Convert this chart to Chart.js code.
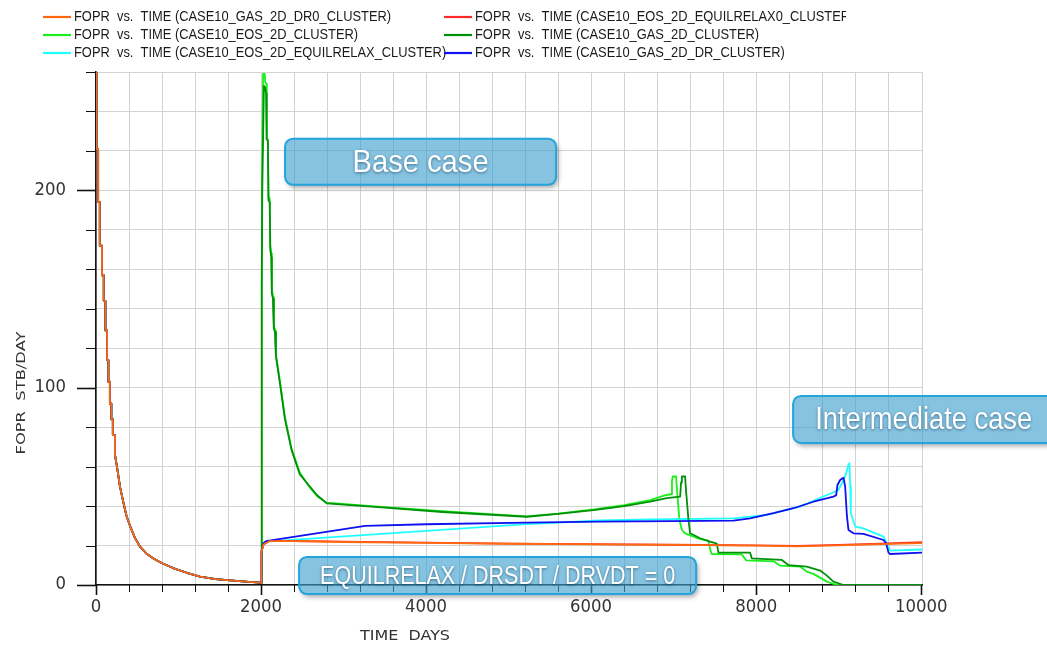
<!DOCTYPE html>
<html>
<head>
<meta charset="utf-8">
<title>FOPR vs. TIME</title>
<script src="https://cdn.jsdelivr.net/npm/chart.js@4.4.1/dist/chart.umd.min.js"></script>
<style>
  html, body { margin: 0; padding: 0; background: #fff; }
  #wrap { width: 1047px; height: 646px; position: relative; }
</style>
</head>
<body>
<div id="wrap"><canvas id="fopr"></canvas></div>
<script>
// early depletion, shared by every case up to 2000 days
const decayDays = [0, 6, 6, 26, 26, 46, 46, 72, 72, 94, 94, 114, 114, 134, 134, 150, 150, 168, 168, 186, 186, 204, 204, 230, 230, 258,
  290, 331, 370, 412, 470, 533, 610, 691, 800, 935, 1100, 1261, 1450, 1663, 1850, 1995];
const decayRate = [262, 262, 221, 221, 194, 194, 172, 172, 157, 157, 144, 144, 129, 129, 114, 114, 103, 103, 92, 92, 84, 84, 76, 76, 66, 59,
  50, 42, 35, 30, 24, 19.5, 16, 13.6, 11, 8.6, 6.2, 4.3, 3, 2.2, 1.6, 1.2];

// after restart at 2000 days
const dr0Days = [2000, 2006, 2030, 2100, 2400, 3000, 4000, 5000, 6000, 7000, 8000, 8500, 9000, 9500, 10010];
const dr0Rate = [1.2, 17, 20.5, 22.2, 22.2, 21.8, 21.4, 20.9, 20.6, 20.3, 20.0, 19.6, 20.1, 20.7, 21.2];

const relax0Days = [2000, 2006, 2030, 2100, 2400, 3000, 4000, 5000, 6000, 7000, 8000, 8500, 9000, 9500, 10010];
const relax0Rate = [1.2, 17, 20.6, 22.3, 22.3, 22.0, 21.5, 21.0, 20.7, 20.4, 20.1, 19.8, 20.3, 20.9, 21.7];

const eosDays = [2000, 2010, 2025, 2045, 2050, 2065, 2070, 2083, 2090, 2105, 2112, 2125, 2132, 2145, 2155, 2170, 2180, 2230, 2290, 2370,
  2470, 2580, 2680, 2790, 3500, 4200, 5220, 5600, 6030, 6400, 6715, 6900, 6970, 6980, 6990, 7030, 7045, 7070, 7100, 7139,
  7321, 7420, 7445, 7462, 7826, 7880, 8210, 8291, 8533, 8614, 8700, 8857, 8978, 10010];
const eosRate = [1.2, 200, 259, 259, 255, 254, 226, 226, 197, 196, 172, 168, 150, 146, 132, 129, 117, 103, 85, 69,
  57, 50, 45, 41.8, 39.5, 37.4, 34.8, 36.2, 38.3, 40.5, 43, 45.5, 46, 53, 55, 55, 46, 33, 28, 26.2,
  23.2, 22.5, 17.7, 15.7, 15.5, 12.5, 12, 9.8, 9.3, 6.8, 5.5, 1.7, 0, 0];

const gasDays = [2000, 2008, 2015, 2035, 2050, 2062, 2068, 2083, 2090, 2105, 2112, 2125, 2130, 2145, 2155, 2170, 2180, 2230, 2290, 2370,
  2470, 2594, 2680, 2796, 3500, 4200, 5220, 5600, 6030, 6400, 6715, 6917, 7079, 7090, 7100, 7139, 7150, 7180, 7200, 7321,
  7442, 7524, 7543, 7927, 7947, 8311, 8391, 8614, 8776, 8850, 8937, 9058, 10010];
const gasRate = [1.2, 150, 200, 253, 252, 249, 226, 225, 195, 194, 170, 166, 148, 145, 130, 128, 116, 102, 84, 68.5,
  56, 49.8, 45.5, 41.4, 39.2, 37, 34.6, 36, 38, 40, 42.2, 44, 44.8, 52, 55, 55, 48, 33, 26.2, 23.7,
  22, 21, 16.4, 16.4, 13.5, 12.7, 10.1, 9.3, 7.3, 5, 1.7, 0, 0];

const relaxDays = [2000, 2006, 2030, 2060, 5220, 6109, 6715, 7725, 8129, 8533, 8857, 8940, 8998, 9079, 9119, 9131, 9140, 9148, 9200, 9301,
  9543, 9604, 9624, 10010];
const relaxRate = [1.2, 17, 21, 22, 30.9, 32.7, 33.2, 33.8, 35.5, 39.7, 45.6, 47, 48.2, 55, 60.9, 61.7, 50, 36.4, 29.6, 28.7,
  24.5, 19.4, 17.4, 18];

const drDays = [2000, 2006, 2030, 2060, 3261, 4000, 5220, 6109, 7000, 7725, 7927, 8210, 8452, 8695, 8937, 8970, 8986, 9018, 9058, 9079,
  9100, 9119, 9180, 9301, 9543, 9576, 9604, 9624, 10010];
const drRate = [1.2, 17, 21.2, 22.2, 30, 30.8, 31.6, 32.1, 32.4, 32.6, 33.8, 36.4, 38.9, 42.2, 44.8, 45.5, 50.7, 53.2, 54.4, 49.8,
  35, 27.9, 26.2, 25.9, 22.8, 21.1, 16.4, 15.7, 16.4];

const yLabels = [0, 100, 200];
const xLabels = [0, 2000, 4000, 6000, 8000, 10000];

// text boxes, corners in (days, STB/DAY)
const notes = [
  { text: 'Base case', x0: 2291, x1: 5576, y0: 226.2, y1: 202.8, font: 32, width: 136 },
  { text: 'EQUILRELAX / DRSDT / DRVDT = 0', x0: 2461, x1: 7273, y0: 14.2, y1: -4.6, font: 26, width: 355 },
  { text: 'Intermediate case', x0: 8448, x1: 11612, y0: 95.8, y1: 72, font: 32, width: 217 }
];

function series(days, rate) {
  const head = decayDays.map((d, i) => ({ x: d, y: decayRate[i] }));
  return head.concat(days.map((d, i) => ({ x: d, y: rate[i] })));
}

function line(label, color, days, rate) {
  return {
    label: label,
    data: series(days, rate),
    borderColor: color,
    backgroundColor: color,
    borderWidth: 1.8,
    pointRadius: 0,
    tension: 0,
    borderJoinStyle: 'round'
  };
}

// first dataset ends up on top
const datasets = [
  line('FOPR  vs.  TIME (CASE10_GAS_2D_DR0_CLUSTER)', '#ff6a10', dr0Days, dr0Rate),
  line('FOPR  vs.  TIME (CASE10_GAS_2D_DR_CLUSTER)', '#1010f0', drDays, drRate),
  line('FOPR  vs.  TIME (CASE10_GAS_2D_CLUSTER)', '#00900a', gasDays, gasRate),
  line('FOPR  vs.  TIME (CASE10_EOS_2D_EQUILRELAX0_CLUSTER)', '#ff2a2a', relax0Days, relax0Rate),
  line('FOPR  vs.  TIME (CASE10_EOS_2D_EQUILRELAX_CLUSTER)', '#20ffff', relaxDays, relaxRate),
  line('FOPR  vs.  TIME (CASE10_EOS_2D_CLUSTER)', '#19f019', eosDays, eosRate)
];

// legend slots: [dataset index, column, row]
const legendSlots = [[0, 0, 0], [5, 0, 1], [4, 0, 2], [3, 1, 0], [2, 1, 1], [1, 1, 2]];

function squeezeText(ctx, text, x, y, sx) {
  ctx.save();
  ctx.translate(x, y);
  ctx.scale(sx, 1);
  ctx.fillText(text, 0, 0);
  ctx.restore();
}

function fitText(ctx, text, x, y, width) {
  const w = ctx.measureText(text).width;
  squeezeText(ctx, text, x, y, width / w);
}

const decor = {
  id: 'decor',
  afterDraw(chart) {
    const ctx = chart.ctx;
    const xs = chart.scales.x, ys = chart.scales.y;
    const area = chart.chartArea;

    // tick marks
    ctx.save();
    ctx.strokeStyle = '#111';
    for (let v = 0; v <= 10000; v += 400) {
      const px = Math.round(xs.getPixelForValue(v)) + 0.5;
      const major = v % 2000 === 0;
      ctx.lineWidth = major ? 1.6 : 1;
      ctx.beginPath();
      ctx.moveTo(px, area.bottom);
      ctx.lineTo(px, area.bottom + (major ? 10 : 7));
      ctx.stroke();
    }
    for (let v = 0; v <= 260; v += 20) {
      const py = Math.round(ys.getPixelForValue(v)) + 0.5;
      const major = v % 100 === 0;
      ctx.lineWidth = major ? 1.6 : 1;
      ctx.beginPath();
      ctx.moveTo(area.left, py);
      ctx.lineTo(area.left - (major ? 19 : 10), py);
      ctx.stroke();
    }
    ctx.restore();

    // tick labels, about 10.5px per digit
    ctx.save();
    ctx.fillStyle = '#333';
    ctx.textBaseline = 'middle';
    ctx.font = '17px "DejaVu Sans", sans-serif';
    ctx.textAlign = 'center';
    xLabels.forEach(v => {
      const s = String(v);
      fitText(ctx, s, xs.getPixelForValue(v), area.bottom + 23, s.length * 10.5);
    });
    ctx.textAlign = 'right';
    yLabels.forEach(v => {
      const s = String(v);
      fitText(ctx, s, area.left - 30, ys.getPixelForValue(v), s.length * 10.5);
    });
    ctx.restore();

    // axis titles
    ctx.save();
    ctx.fillStyle = '#333';
    ctx.textBaseline = 'middle';
    ctx.textAlign = 'center';
    ctx.font = '14px "DejaVu Sans", sans-serif';
    fitText(ctx, 'TIME  DAYS', 405, 636, 90);
    ctx.translate(22, 393);
    ctx.rotate(-Math.PI / 2);
    ctx.font = '12.5px "DejaVu Sans", sans-serif';
    fitText(ctx, 'FOPR  STB/DAY', 0, 0, 123);
    ctx.restore();

    // legend: two columns, text clipped at the right
    ctx.save();
    ctx.beginPath();
    ctx.rect(0, 0, 846, 70);
    ctx.clip();
    ctx.font = '14px "Liberation Sans", Arial, sans-serif';
    ctx.textBaseline = 'middle';
    ctx.textAlign = 'left';
    const colX = [43, 444], rowY = [17, 35, 53];
    legendSlots.forEach(([di, c, r]) => {
      const ds = chart.data.datasets[di];
      ctx.fillStyle = '#1a1a1a';
      squeezeText(ctx, ds.label, colX[c] + 31, rowY[r] + 0.5, 0.92);
    });
    legendSlots.forEach(([di, c, r]) => {
      const ds = chart.data.datasets[di];
      ctx.strokeStyle = ds.borderColor;
      ctx.lineWidth = 2.2;
      ctx.beginPath();
      ctx.moveTo(colX[c], rowY[r]);
      ctx.lineTo(colX[c] + 28, rowY[r]);
      ctx.stroke();
    });
    ctx.restore();

    // text boxes
    notes.forEach(n => {
      const x = xs.getPixelForValue(n.x0), x2 = xs.getPixelForValue(n.x1);
      const y = ys.getPixelForValue(n.y0), y2 = ys.getPixelForValue(n.y1);
      const w = x2 - x, h = y2 - y;

      // drop shadow only outside the box
      ctx.save();
      ctx.beginPath();
      ctx.rect(0, 0, chart.width, chart.height);
      ctx.roundRect(x, y, w, h, 8);
      ctx.clip('evenodd');
      ctx.shadowColor = 'rgba(0,0,0,0.35)';
      ctx.shadowBlur = 5;
      ctx.shadowOffsetX = 2;
      ctx.shadowOffsetY = 3;
      ctx.fillStyle = '#fff';
      ctx.beginPath();
      ctx.roundRect(x, y, w, h, 8);
      ctx.fill();
      ctx.restore();

      ctx.save();
      ctx.beginPath();
      ctx.roundRect(x, y, w, h, 8);
      ctx.fillStyle = 'rgba(62,160,208,0.63)';
      ctx.fill();
      ctx.lineWidth = 2;
      ctx.strokeStyle = '#22a4dc';
      ctx.stroke();

      ctx.font = n.font + 'px "Liberation Sans Narrow", "Liberation Sans", Arial, sans-serif';
      ctx.textAlign = 'center';
      ctx.textBaseline = 'middle';
      ctx.fillStyle = '#fff';
      ctx.shadowColor = 'rgba(0,40,70,0.55)';
      ctx.shadowBlur = 3;
      ctx.shadowOffsetY = 1;
      fitText(ctx, n.text, x + w / 2, y + h / 2 + 1, n.width);
      ctx.restore();
    });
  }
};

new Chart(document.getElementById('fopr'), {
  type: 'line',
  data: { datasets: datasets },
  options: {
    responsive: true,
    maintainAspectRatio: false,
    animation: false,
    parsing: false,
    layout: { padding: { top: 72, right: 125, left: 0, bottom: 0 } },
    plugins: {
      legend: { display: false },
      tooltip: { enabled: false }
    },
    scales: {
      x: {
        type: 'linear',
        min: 0,
        max: 10010,
        afterFit(scale) { scale.height = 61; },
        grid: { color: '#d2d2d2', lineWidth: 1, drawTicks: false },
        border: { color: '#111', width: 1.6 },
        ticks: { stepSize: 400, autoSkip: false, maxRotation: 0, display: false }
      },
      y: {
        type: 'linear',
        min: 0,
        max: 260,
        afterFit(scale) { scale.width = 96; },
        grid: { color: '#d2d2d2', lineWidth: 1, drawTicks: false },
        border: { color: '#111', width: 1.6 },
        ticks: { stepSize: 20, autoSkip: false, display: false }
      }
    }
  },
  plugins: [decor]
});
</script>
</body>
</html>
